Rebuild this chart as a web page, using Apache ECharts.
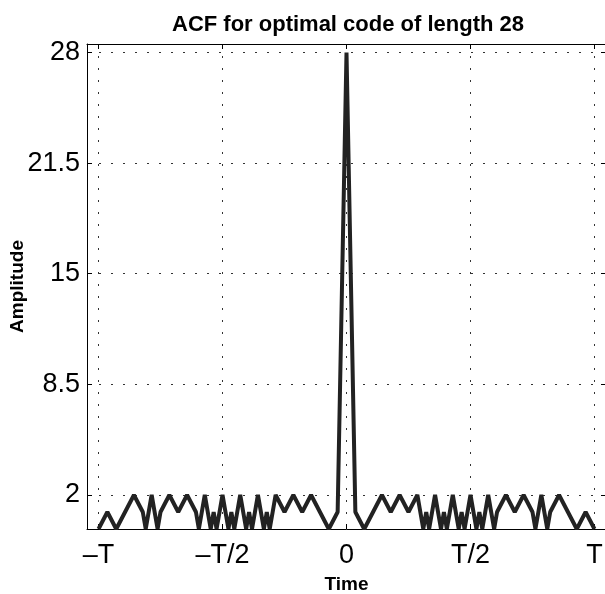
<!DOCTYPE html>
<html><head><meta charset="utf-8">
<script src="https://cdn.jsdelivr.net/npm/echarts@6/dist/echarts.min.js"></script>
<style>html,body{margin:0;padding:0;background:#fff}#c{width:605px;height:594px}</style>
</head><body><div id="c"></div>
<script>
// Time lag in chips (T = 28 chips) and |ACF| amplitude (vertices incl. zero dips)
const timeLags = [-28,-27,-26,-25,-24,-23,-22.67,-22,-21.33,-21,-20,-19,-18,-17,-16.67,-16,-15.33,-15,-14.67,-14,-13.33,-13,-12.67,-12,-11.33,-11,-10.67,-10,-9.33,-9,-8.67,-8,-7,-6,-5,-4,-3,-2,-1,0,
  1,2,3,4,5,6,7,8,8.67,9,9.33,10,10.67,11,11.33,12,12.67,13,13.33,14,14.67,15,15.33,16,16.67,17,18,19,20,21,21.33,22,22.67,23,24,25,26,27,28];
const amplitude = [0,1,0,1,2,1,0,2,0,1,2,1,2,1,0,2,0,1,0,2,0,1,0,2,0,1,0,2,0,1,0,2,1,2,1,2,1,0,1,28,
  1,0,1,2,1,2,1,2,0,1,0,2,0,1,0,2,0,1,0,2,0,1,0,2,0,1,2,1,2,1,0,2,0,1,2,1,0,1,0];
const xTickValues = [-28,-14,0,14,28];
const xTickLabels = ['\u2013T','\u2013T/2','0','T/2','T'];
const yTickValues = [2,8.5,15,21.5,28];
const yTickLabels = ['2','8.5','15','21.5','28'];

const chart = echarts.init(document.getElementById('c'));
const font = 'Liberation Sans, Arial, Helvetica, sans-serif';
const grid = {color:'#333', width:1, type:[2,10]};
const seriesData = timeLags.map((t,i)=>[t, amplitude[i]]);
chart.setOption({
  animation:false,
  backgroundColor:'#fff',
  title:{text:'ACF for optimal code of length 28', left:343, top:9, textAlign:'center',
    textStyle:{fontFamily:font, fontSize:22, fontWeight:'bold', color:'#000'}},
  grid:{left:87, top:44, width:519, height:485, outerBoundsMode:'none', containLabel:false},
  xAxis:[{
    type:'value', min:-29.3, max:29.3, position:'bottom',
    axisLine:{show:true, onZero:false, lineStyle:{color:'#000', width:1}},
    axisTick:{show:true, inside:true, length:5, customValues:xTickValues, lineStyle:{color:'#000'}},
    axisLabel:{show:true, customValues:xTickValues, margin:13, fontFamily:font, fontSize:27, color:'#000',
      formatter:(v)=>xTickLabels[xTickValues.indexOf(v)] ?? ''},
    splitLine:{show:true, lineStyle:grid},
    name:'Time', nameLocation:'middle', nameGap:46, nameMoveOverlap:false,
    nameTextStyle:{fontFamily:font, fontSize:19, fontWeight:'bold', color:'#000'}
  },{
    type:'value', min:-29.3, max:29.3, position:'top',
    axisLine:{show:true, onZero:false, lineStyle:{color:'#000', width:1}},
    axisTick:{show:true, inside:true, length:5, customValues:xTickValues, lineStyle:{color:'#000'}},
    axisLabel:{show:false}, splitLine:{show:false}
  }],
  yAxis:[{
    type:'value', min:0, max:28.5, position:'left',
    axisLine:{show:true, onZero:false, lineStyle:{color:'#000', width:1}},
    axisTick:{show:true, inside:true, length:5, customValues:yTickValues, lineStyle:{color:'#000'}},
    axisLabel:{show:true, customValues:yTickValues, margin:7, fontFamily:font, fontSize:27, color:'#000',
      formatter:(v)=>yTickLabels[yTickValues.indexOf(v)] ?? ''},
    splitLine:{show:true, lineStyle:grid},
    name:'Amplitude', nameLocation:'middle', nameGap:60, nameRotate:90, nameMoveOverlap:false,
    nameTextStyle:{fontFamily:font, fontSize:19, fontWeight:'bold', color:'#000'}
  },{
    type:'value', min:0, max:28.5, position:'right',
    axisLine:{show:true, onZero:false, lineStyle:{color:'#000', width:1}},
    axisTick:{show:true, inside:true, length:5, customValues:yTickValues, lineStyle:{color:'#000'}},
    axisLabel:{show:false}, splitLine:{show:false}
  }],
  series:[{
    type:'line', xAxisIndex:0, yAxisIndex:0, data:seriesData, showSymbol:false,
    lineStyle:{color:'#222', width:4, join:'bevel'}, clip:true
  }]
});
</script></body></html>
